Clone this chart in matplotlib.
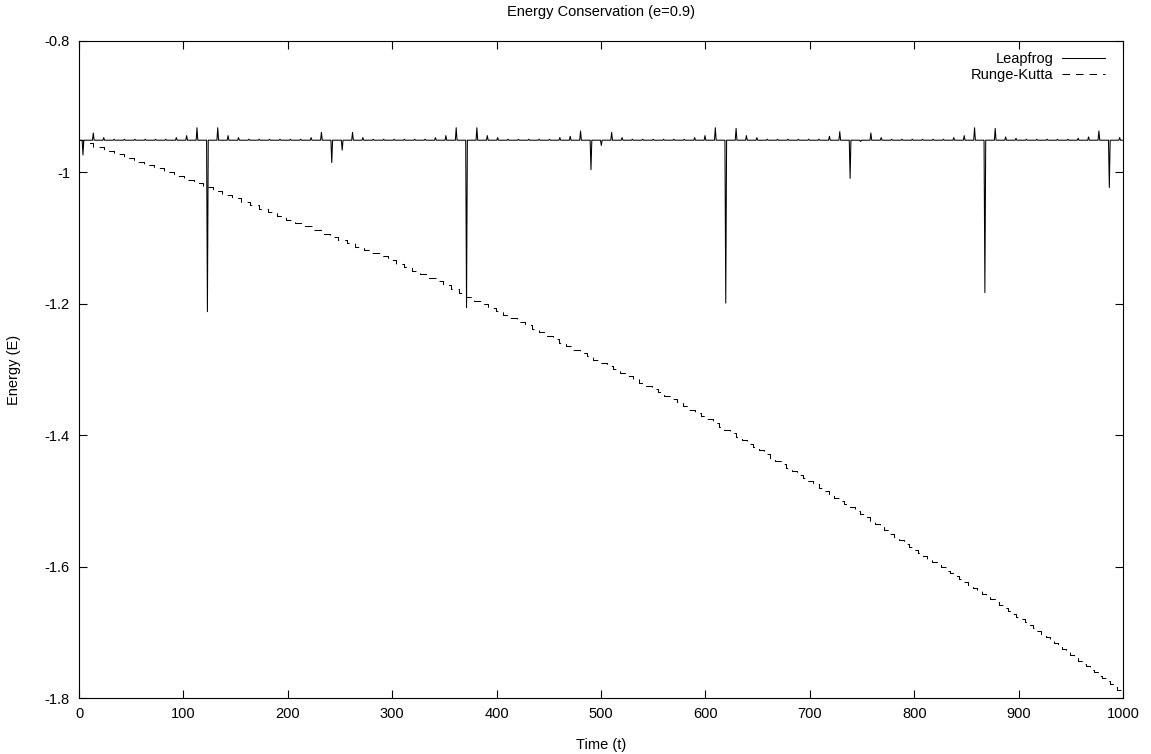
import matplotlib
matplotlib.use("Agg")
import matplotlib.pyplot as plt
from matplotlib.ticker import MultipleLocator, FuncFormatter

# === Dados da simulacao (orbita com e=0.9) ===
# Leapfrog: energia quase constante, com picos nas passagens pelo periapsis
lf_base = -0.951
lf_t = [3.8, 13.7, 23.7, 33.6, 43.5, 53.5, 63.4, 73.3, 83.2, 93.2,
        103.1, 113.0, 123.0, 132.9, 142.8, 152.8, 162.7, 172.6, 182.5, 192.5,
        202.4, 212.3, 222.3, 232.2, 242.1, 252.1, 262.0, 271.9, 281.8, 291.8,
        301.7, 311.6, 321.6, 331.5, 341.4, 351.4, 361.3, 371.2, 381.1, 391.1,
        401.0, 410.9, 420.9, 430.8, 440.7, 450.7, 460.6, 470.5, 480.4, 490.4,
        500.3, 510.2, 520.2, 530.1, 540.0, 550.0, 559.9, 569.8, 579.7, 589.7,
        599.6, 609.5, 619.5, 629.4, 639.3, 649.3, 659.2, 669.1, 679.0, 689.0,
        698.9, 708.8, 718.8, 728.7, 738.6, 748.6, 758.5, 768.4, 778.3, 788.3,
        798.2, 808.1, 818.1, 828.0, 837.9, 847.9, 857.8, 867.7, 877.6, 887.6,
        897.5, 907.4, 917.4, 927.3, 937.2, 947.2, 957.1, 967.0, 976.9, 986.9,
        996.8]
lf_e = [-0.9735, -0.940, -0.947, -0.9495, -0.9495, -0.9495, -0.9495, -0.9495, -0.9495, -0.947,
        -0.944, -0.932, -1.212, -0.932, -0.944, -0.947, -0.9495, -0.9495, -0.9495, -0.9495,
        -0.9495, -0.9495, -0.947, -0.939, -0.985, -0.966, -0.939, -0.947, -0.9495, -0.9495,
        -0.9495, -0.9495, -0.9495, -0.9495, -0.947, -0.944, -0.932, -1.206, -0.932, -0.944,
        -0.947, -0.9495, -0.9495, -0.9495, -0.9495, -0.9495, -0.947, -0.945, -0.937, -0.996,
        -0.959, -0.939, -0.947, -0.9495, -0.9495, -0.9495, -0.9495, -0.9495, -0.9495, -0.947,
        -0.944, -0.932, -1.199, -0.933, -0.944, -0.947, -0.9495, -0.9495, -0.9495, -0.9495,
        -0.9495, -0.9495, -0.945, -0.938, -1.009, -0.953, -0.940, -0.947, -0.9495, -0.9495,
        -0.9495, -0.9495, -0.9495, -0.9495, -0.947, -0.944, -0.932, -1.183, -0.933, -0.946,
        -0.948, -0.9495, -0.9495, -0.9495, -0.9495, -0.9495, -0.948, -0.946, -0.937, -1.023,
        -0.947]

# Runge-Kutta: perde energia a cada passagem pelo periapsis (degraus)
rk_t = [0.0,
        3.8, 13.7, 23.5, 33.3, 43.0, 52.7, 62.3, 71.9, 81.4, 90.9, 100.3,
        109.7, 118.9, 128.0, 137.1, 146.1, 155.0, 163.9, 172.7, 181.4, 190.1, 198.7,
        207.2, 215.6, 223.9, 232.2, 240.4, 248.5, 256.6, 264.6, 272.6, 280.5, 288.3, 296.1,
        303.8, 311.5, 319.1, 326.7, 334.2, 341.6, 349.0, 356.3, 363.6, 370.8, 378.0, 385.1,
        392.2, 399.2,
        406.2, 413.1, 420.0, 426.8, 433.6, 440.3, 447.0, 453.6, 460.2, 466.8, 473.3, 479.8,
        486.2, 492.6, 499.0,
        505.3, 511.6, 517.9, 524.1, 530.3, 536.4, 542.5, 548.6, 554.6, 560.6, 566.5, 572.4,
        578.3, 584.1, 589.9, 595.6,
        601.3, 607.0, 612.6, 618.2, 623.8, 629.3, 634.8, 640.3, 645.7, 651.1, 656.5, 661.8,
        667.1, 672.4, 677.6, 682.8, 688.0, 693.1, 698.2,
        703.3, 708.4, 713.4, 718.4, 723.4, 728.3, 733.2, 738.1, 743.0, 747.8, 752.6, 757.4,
        762.1, 766.8, 771.5, 776.2, 780.8, 785.4, 790.0, 794.6, 799.1,
        803.6, 808.1, 812.6, 817.0, 821.4, 825.8, 830.2, 834.6, 838.9, 843.2, 847.5, 851.8,
        856.1, 860.3, 864.5, 868.7, 872.9, 877.1, 881.2, 885.3, 889.4, 893.5, 897.6,
        901.7, 905.8, 909.9, 913.9, 917.9, 921.9, 925.9, 929.9, 933.8, 937.7, 941.6, 945.5,
        949.4, 953.3, 957.1, 960.9, 964.7, 968.5, 972.3, 976.1, 979.9, 983.6, 987.3, 991.0,
        994.7, 998.4,
        1000.0]
rk_e = [-0.951,
        -0.955, -0.961, -0.967, -0.972, -0.978, -0.984, -0.989, -0.994, -1.000, -1.005, -1.011,
        -1.016, -1.022, -1.028, -1.034, -1.039, -1.045, -1.050, -1.055, -1.061, -1.066, -1.072,
        -1.077, -1.082, -1.087, -1.093, -1.098, -1.103, -1.108, -1.113, -1.118, -1.123, -1.128,
        -1.133,
        -1.139, -1.144, -1.150, -1.155, -1.161, -1.166, -1.172, -1.178, -1.184, -1.190, -1.195,
        -1.200, -1.206, -1.211,
        -1.217, -1.222, -1.228, -1.233, -1.238, -1.243, -1.249, -1.254, -1.259, -1.264, -1.270,
        -1.275, -1.280, -1.285, -1.290,
        -1.295, -1.300, -1.305, -1.310, -1.315, -1.320, -1.325, -1.330, -1.335, -1.340, -1.345,
        -1.350, -1.355, -1.361, -1.366, -1.371,
        -1.376, -1.381, -1.387, -1.392, -1.397, -1.402, -1.408, -1.413, -1.418, -1.423, -1.429,
        -1.434, -1.439, -1.444, -1.450, -1.455, -1.460, -1.465, -1.470,
        -1.475, -1.480, -1.485, -1.490, -1.495, -1.500, -1.505, -1.510, -1.515, -1.520, -1.525,
        -1.530, -1.535, -1.540, -1.545, -1.550, -1.555, -1.560, -1.565, -1.570, -1.575,
        -1.579, -1.584, -1.588, -1.593, -1.597, -1.601, -1.606, -1.610, -1.615, -1.619, -1.623,
        -1.628, -1.632, -1.637, -1.641, -1.645, -1.650, -1.654, -1.659, -1.663, -1.667, -1.672,
        -1.676,
        -1.680, -1.685, -1.689, -1.694, -1.698, -1.703, -1.707, -1.712, -1.716, -1.721, -1.725,
        -1.730, -1.734, -1.739, -1.743, -1.748, -1.752, -1.757, -1.761, -1.766, -1.770, -1.774,
        -1.779, -1.783, -1.788, -1.792,
        -1.792]

plt.rcParams['font.family'] = ['Liberation Sans', 'DejaVu Sans']
FS = 10.5

# === Monta a curva do leapfrog: linha de base com um pico estreito por passagem ===
half_w = 0.8
lf_x = [0.0]
lf_y = [lf_base]
for t, e in zip(lf_t, lf_e):
    lf_x += [t - half_w, t, min(t + half_w, 1000.0)]
    lf_y += [lf_base, e, lf_base]
lf_x.append(1000.0)
lf_y.append(lf_base)

W, H = 1151, 754
fig = plt.figure(figsize=(W / 100, H / 100), dpi=100)
ax = fig.add_axes([79 / W, 1 - 698 / H, (1123 - 79) / W, (698 - 41) / H])

ax.plot(lf_x, lf_y, color='black', lw=0.75, label='Leapfrog')
ax.step(rk_t, rk_e, where='post', color='black', lw=0.75,
        linestyle=(0, (7.2, 5.8)), label='Runge-Kutta')

ax.set_xlim(0, 1000)
ax.set_ylim(-1.8, -0.8)
ax.xaxis.set_major_locator(MultipleLocator(100))
ax.yaxis.set_major_locator(MultipleLocator(0.2))
ax.yaxis.set_major_formatter(FuncFormatter(lambda v, p: f"{v:g}"))
ax.tick_params(direction='in', length=5.8, width=0.8, top=True, right=True,
               labelsize=FS, pad=6.5, colors='black')
for s in ax.spines.values():
    s.set_linewidth(0.8)

fig.text(601 / W, 1 - 12 / H, 'Energy Conservation (e=0.9)', ha='center', va='center', fontsize=FS)
fig.text(601 / W, 1 - 745 / H, 'Time (t)', ha='center', va='center', fontsize=FS)
fig.text(14 / W, 1 - 370 / H, 'Energy (E)', ha='center', va='center', rotation=90, fontsize=FS)

ax.legend(loc='upper right', bbox_to_anchor=(1105 / W, 1 - 52 / H), bbox_transform=fig.transFigure,
          frameon=False, markerfirst=False, handlelength=2.95, handletextpad=0.6,
          labelspacing=0.15, borderpad=0, borderaxespad=0, fontsize=FS)

fig.savefig('out.png', dpi=100)
